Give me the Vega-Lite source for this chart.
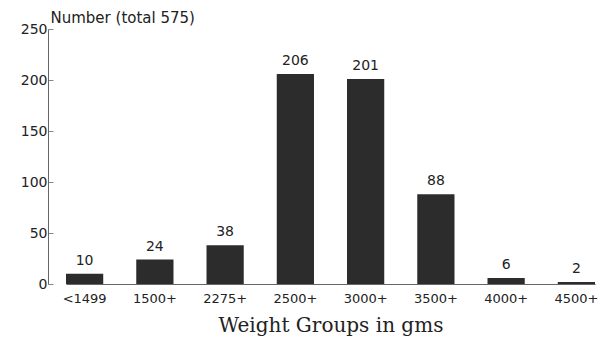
{
  "$schema": "https://vega.github.io/schema/vega-lite/v6.json",
  "autosize": "none",
  "width": 561,
  "height": 255,
  "padding": {"left": 48, "top": 29, "right": 6, "bottom": 56},
  "background": "white",
  "data": {"values": [
    {"group": "<1499", "n": 10},
    {"group": "1500+", "n": 24},
    {"group": "2275+", "n": 38},
    {"group": "2500+", "n": 206},
    {"group": "3000+", "n": 201},
    {"group": "3500+", "n": 88},
    {"group": "4000+", "n": 6},
    {"group": "4500+", "n": 2}
  ]},
  "config": {"view": {"stroke": null}, "font": "DejaVu Sans"},
  "encoding": {
    "x": {"field": "group", "type": "nominal", "sort": null,
      "scale": {"range": [18, 547], "paddingInner": 0.47, "paddingOuter": 0},
      "axis": {"title": "Weight Groups in gms", "labelAngle": 0, "ticks": false, "labelPadding": 8,
        "labelFontSize": 13, "labelColor": "#222", "titleFontSize": 20, "titleFont": "DejaVu Serif", "titleFontWeight": "normal",
        "titlePadding": 10, "domainColor": "#666", "titleColor": "#222"}},
    "y": {"field": "n", "type": "quantitative",
      "scale": {"domain": [0, 250], "nice": false},
      "axis": {"values": [0, 50, 100, 150, 200, 250], "grid": false, "title": "Number (total 575)",
        "titleAngle": 0, "titleAlign": "left", "titleBaseline": "alphabetic", "titleX": 2, "titleY": -7,
        "titleFontSize": 15, "titleFontWeight": "normal", "titleColor": "#222",
        "tickSize": -5, "labelPadding": 6, "labelFontSize": 14, "labelColor": "#222", "domainColor": "#666", "tickColor": "#888"}}
  },
  "layer": [
    {"mark": {"type": "bar", "color": "#2c2c2c"}},
    {"mark": {"type": "text", "dy": -9, "fontSize": 14, "color": "#222", "baseline": "alphabetic"},
      "encoding": {"text": {"field": "n", "type": "quantitative"}}}
  ]
}
